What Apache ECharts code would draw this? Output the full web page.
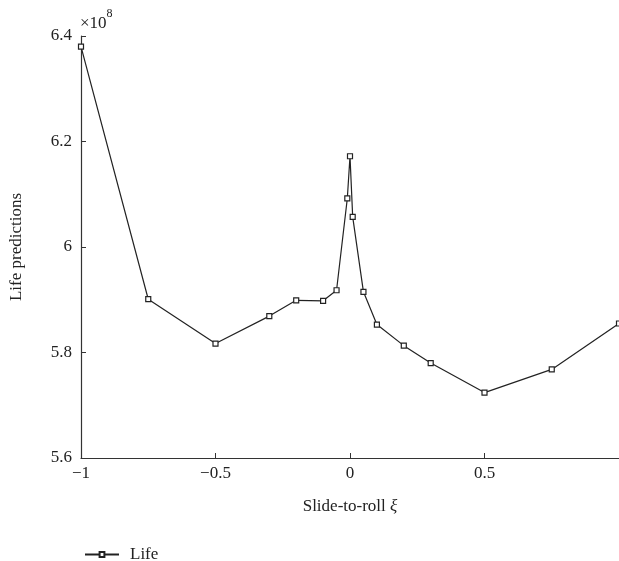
<!DOCTYPE html>
<html>
<head>
<meta charset="utf-8">
<script src="https://cdn.jsdelivr.net/npm/echarts@6/dist/echarts.min.js"></script>
<style>
html,body{margin:0;padding:0;background:#fff;}
#main{width:619px;height:561px;}
</style>
</head>
<body>
<div id="main"></div>
<script>
// slide-to-roll ratio and life predictions (x10^8)
var xi = [-1, -0.75, -0.5, -0.3, -0.2, -0.1, -0.05, -0.01, 0, 0.01, 0.05, 0.1, 0.2, 0.3, 0.5, 0.75, 1];
var life = [6.380, 5.901, 5.817, 5.869, 5.899, 5.898, 5.918, 6.092, 6.172, 6.057, 5.915, 5.853, 5.813, 5.780, 5.724, 5.768, 5.855];
var xTicks = [-1, -0.5, 0, 0.5];
var yTicks = [5.6, 5.8, 6, 6.2, 6.4];

var pts = [];
for (var i = 0; i < xi.length; i++) pts.push([xi[i], life[i]]);

function fmt(v) {
    return String(v).replace('-', '\u2212');
}

var font = 'Liberation Serif';
var chart = echarts.init(document.getElementById('main'));
var option = {
    animation: false,
    textStyle: {fontFamily: font},
    grid: {left: 78, right: -4, top: 36, bottom: 103},
    graphic: [{
        type: 'text',
        left: 80, top: 8,
        style: {
            text: '{a|\u00d710}{b|8}',
            rich: {
                a: {fontFamily: font, fontSize: 17, fill: '#222', padding: [7, 0, 0, 0]},
                b: {fontFamily: font, fontSize: 12, fill: '#222', verticalAlign: 'top'}
            }
        }
    }],
    legend: {
        left: 79, top: 541,
        itemWidth: 34, itemHeight: 6,
        data: ['Life'],
        textStyle: {fontFamily: font, fontSize: 17, color: '#222', padding: [0, 0, 0, 6]}
    },
    xAxis: {
        type: 'value',
        min: -1, max: 1, interval: 0.5,
        name: 'Slide-to-roll {i|\u03be}',
        nameLocation: 'middle',
        nameGap: 40,
        nameTextStyle: {
            fontFamily: font, fontSize: 17, color: '#222',
            rich: {i: {fontFamily: font, fontStyle: 'italic', fontSize: 17, color: '#222'}}
        },
        axisLine: {onZero: false, lineStyle: {color: '#333', width: 1.2}},
        axisTick: {inside: true, length: 5, lineStyle: {color: '#333'}},
        splitLine: {show: false},
        axisLabel: {
            fontFamily: font, fontSize: 17, color: '#222', margin: 7,
            showMaxLabel: false,
            formatter: function (v) { return xTicks.indexOf(v) >= 0 ? fmt(v) : ''; }
        }
    },
    yAxis: {
        type: 'value',
        min: 5.6, max: 6.4, interval: 0.2,
        name: 'Life predictions',
        nameLocation: 'middle',
        nameGap: 56,
        nameTextStyle: {fontFamily: font, fontSize: 17, color: '#222'},
        axisLine: {show: true, onZero: false, lineStyle: {color: '#333', width: 1.2}},
        axisTick: {show: true, inside: true, length: 5, lineStyle: {color: '#333'}},
        splitLine: {show: false},
        axisLabel: {
            fontFamily: font, fontSize: 17, color: '#222', margin: 9,
            formatter: function (v) {
                var r = Math.round(v * 10) / 10;
                return yTicks.indexOf(r) >= 0 ? String(r) : '';
            }
        }
    },
    series: [{
        name: 'Life',
        type: 'line',
        data: pts,
        symbol: 'rect',
        symbolSize: 5,
        showAllSymbol: true,
        clip: false,
        lineStyle: {color: '#222', width: 1.2},
        itemStyle: {color: '#fff', borderColor: '#222', borderWidth: 1.2}
    }]
};
chart.setOption(option);
</script>
</body>
</html>
